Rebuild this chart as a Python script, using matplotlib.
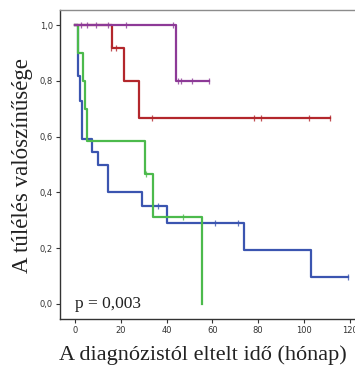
import matplotlib
matplotlib.use('Agg')
import matplotlib.pyplot as plt

# survival steps (time in months, survival probability)
blue_t = [0, 1.0, 2.1, 2.8, 7.2, 10.1, 14.2, 29.3, 40.1, 73.8, 103.1, 119.5]
blue_s = [1.0, 0.818, 0.727, 0.591, 0.545, 0.5, 0.4, 0.35, 0.292, 0.195, 0.097, 0.097]
blue_cens_t = [36.2, 61.1, 71.1, 119.5]
blue_cens_s = [0.35, 0.292, 0.292, 0.097]

green_t = [0, 1.2, 3.2, 4.4, 5.3, 30.6, 34.1, 55.3]
green_s = [1.0, 0.9, 0.8, 0.7, 0.583, 0.467, 0.311, 0.0]
green_cens_t = [31.0, 47.3]
green_cens_s = [0.467, 0.311]

red_t = [0, 16.1, 21.2, 28.0, 111.5]
red_s = [1.0, 0.917, 0.8, 0.667, 0.667]
red_cens_t = [15.6, 17.8, 33.4, 78.2, 81.1, 102.3, 111.5]
red_cens_s = [0.917, 0.917, 0.667, 0.667, 0.667, 0.667, 0.667]

purple_t = [0, 43.9, 58.5]
purple_s = [1.0, 0.8, 0.8]
purple_cens_t = [2.5, 5.3, 9.2, 14.2, 22.2, 42.8, 44.8, 46.2, 51.2, 58.5]
purple_cens_s = [1.0, 1.0, 1.0, 1.0, 1.0, 1.0, 0.8, 0.8, 0.8, 0.8]

x_ticks = [0, 20, 40, 60, 80, 100, 120]
y_ticks = [0.0, 0.2, 0.4, 0.6, 0.8, 1.0]
y_tick_labels = ['0,0', '0,2', '0,4', '0,6', '0,8', '1,0']

serif = ['Liberation Serif', 'DejaVu Serif']

fig = plt.figure(figsize=(3.55, 3.65), dpi=100)
ax = fig.add_axes([60 / 355, 46 / 365, 296 / 355, 309 / 365])

groups = [
    (blue_t, blue_s, blue_cens_t, blue_cens_s, '#3b55b0'),
    (green_t, green_s, green_cens_t, green_cens_s, '#4cba4c'),
    (red_t, red_s, red_cens_t, red_cens_s, '#b3272c'),
    (purple_t, purple_s, purple_cens_t, purple_cens_s, '#8d3a97'),
]
for z, (t, s, ct, cs, col) in enumerate(groups):
    ax.step(t, s, where='post', color=col, lw=1.6, zorder=2 + z)
    ax.plot(ct, cs, ls='none', marker='|', ms=5, mew=0.9, color=col, alpha=0.8, zorder=2 + z)

ax.set_xlim(-6.7, 122.8)
ax.set_ylim(-0.054, 1.054)
ax.set_xticks(x_ticks)
ax.set_xticklabels([str(v) for v in x_ticks])
ax.set_yticks(y_ticks)
ax.set_yticklabels(y_tick_labels)
ax.tick_params(labelsize=6, length=3, width=0.8, colors='#333333', pad=2)

for side in ['left', 'bottom']:
    ax.spines[side].set_color('#333333')
    ax.spines[side].set_linewidth(1.0)
ax.spines['top'].set_color('#8c8c8c')
ax.spines['top'].set_linewidth(1.0)
ax.spines['right'].set_visible(False)

ax.text(0, -0.03, 'p = 0,003', family=serif, fontsize=12.5, color='#222222',
        ha='left', va='bottom')

fig.text(23 / 355, 1 - 166 / 365, 'A túlélés valószínűsége', family=serif, fontsize=16.5,
         rotation=90, ha='center', va='center', color='#222222')
fig.text(59 / 355, 1 - 355 / 365, 'A diagnózistól eltelt idő (hónap)', family=serif,
         fontsize=16, ha='left', va='center', color='#222222')

fig.savefig('out.png', dpi=100)
